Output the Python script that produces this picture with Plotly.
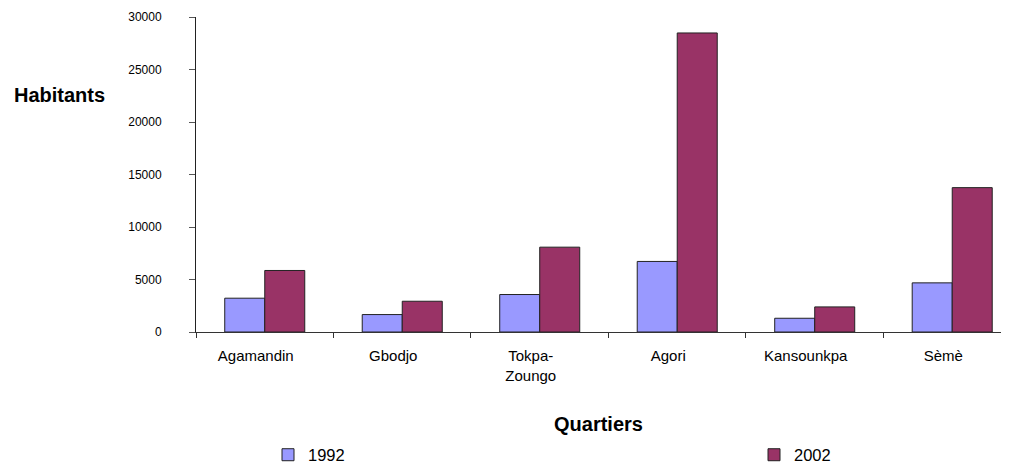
import plotly.graph_objects as go

categories = ["Agamandin", "Gbodjo", "Tokpa-<br>Zoungo", "Agori", "Kansounkpa", "Sèmè"]
values_1992 = [3220, 1660, 3570, 6720, 1310, 4680]
values_2002 = [5860, 2930, 8080, 28480, 2390, 13750]
y_ticks = [0, 5000, 10000, 15000, 20000, 25000, 30000]
y_tick_labels = ["0", "5000", "10000", "15000", "20000", "25000", "30000"]

font = "Liberation Sans, Arial, sans-serif"

W, H = 1001, 458
L, T, B = 188, 9, 134.3
PW, PH = W - L, H - T - B

fig = go.Figure()
fig.add_trace(go.Bar(name="1992", x=categories, y=values_1992, legend="legend",
                     marker=dict(color="#9999FF", line=dict(color="#222222", width=1))))
fig.add_trace(go.Bar(name="2002", x=categories, y=values_2002, legend="legend2",
                     marker=dict(color="#993366", line=dict(color="#222222", width=1))))

leg_common = dict(orientation="h", xref="container", yref="container",
                  xanchor="left", yanchor="middle", font=dict(size=16.5, family=font),
                  bgcolor="rgba(0,0,0,0)")

fig.update_layout(
    width=W, height=H,
    margin=dict(l=L, r=0, t=T, b=B),
    paper_bgcolor="white", plot_bgcolor="white",
    barmode="group", bargap=0.418, bargroupgap=0,
    font=dict(family=font, size=12, color="black"),
    showlegend=True,
    legend=dict(x=260 / W, y=(H - 447) / H, **leg_common),
    legend2=dict(x=746 / W, y=(H - 447) / H, **leg_common),
    xaxis=dict(range=[-0.5, 5.413], showline=True, linecolor="#333333", linewidth=1,
               ticks="outside", ticklen=5, tickcolor="#333333", tickson="boundaries",
               ticklabelstandoff=10, ticklabelshift=-9, showgrid=False, zeroline=False,
               tickfont=dict(size=15)),
    yaxis=dict(range=[0, 30000], tickvals=y_ticks, ticktext=y_tick_labels,
               showline=True, linecolor="#222222",
               linewidth=1, ticks="outside", ticklen=6, tickcolor="#555555",
               showgrid=False, zeroline=False, ticklabelstandoff=25,
               tickfont=dict(size=12)),
    annotations=[
        dict(text="<b>Habitants</b>", xref="paper", yref="paper", x=(51 - L) / PW,
             y=(T + PH - 87) / PH, showarrow=False, xanchor="center", yanchor="middle",
             font=dict(size=20, family=font)),
        dict(text="<b>Quartiers</b>", xref="paper", yref="paper", x=(590 - L) / PW,
             y=(T + PH - 416) / PH, showarrow=False, xanchor="center", yanchor="middle",
             font=dict(size=20, family=font)),
    ],
)

fig.write_html("out.html")
